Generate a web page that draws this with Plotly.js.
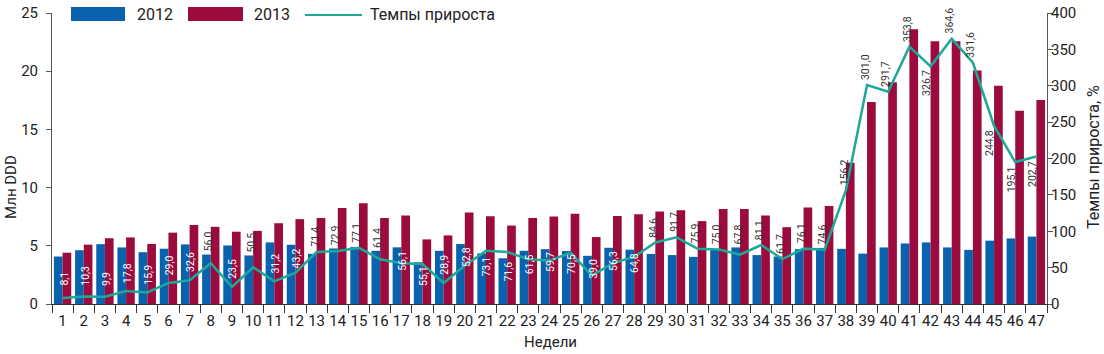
<!DOCTYPE html>
<html>
<head>
<meta charset="utf-8">
<script src="https://cdn.plot.ly/plotly-3.0.1.min.js"></script>
<style>html,body{margin:0;padding:0;background:#fff;}#chart{width:1104px;height:354px;}</style>
</head>
<body>
<div id="chart"></div>
<script>
// ---- Data ----
const weeks = Array.from({length: 47}, (_, i) => String(i + 1));
const sales2012 = [4.08, 4.62, 5.14, 4.86, 4.45, 4.75, 5.12, 4.25, 5.03, 4.17, 5.29, 5.09, 4.31, 4.77, 4.89, 4.57, 4.87, 3.58, 4.57, 5.15, 4.35, 3.93, 4.57, 4.71, 4.55, 4.14, 4.83, 4.67, 4.30, 4.20, 4.05, 4.66, 4.86, 4.20, 4.08, 4.71, 4.82, 4.74, 4.33, 4.86, 5.20, 5.29, 4.86, 4.65, 5.44, 5.63, 5.79];
const sales2013 = [4.41, 5.10, 5.65, 5.72, 5.16, 6.13, 6.79, 6.63, 6.21, 6.28, 6.94, 7.29, 7.39, 8.25, 8.66, 7.38, 7.60, 5.55, 5.89, 7.87, 7.53, 6.74, 7.38, 7.52, 7.76, 5.75, 7.55, 7.70, 7.94, 8.05, 7.12, 8.16, 8.16, 7.61, 6.60, 8.29, 8.42, 12.14, 17.36, 19.04, 23.60, 22.57, 22.58, 20.07, 18.76, 16.61, 17.53];
const growth = [8.1, 10.3, 9.9, 17.8, 15.9, 29.0, 32.6, 56.0, 23.5, 50.5, 31.2, 43.2, 71.4, 72.9, 77.1, 61.4, 56.1, 55.1, 28.9, 52.8, 73.1, 71.6, 61.5, 59.7, 70.5, 39.0, 56.3, 64.8, 84.6, 91.7, 75.9, 75.0, 67.8, 81.1, 61.7, 76.1, 74.6, 156.2, 301.0, 291.7, 353.8, 326.7, 364.6, 331.6, 244.8, 195.1, 202.7];
const seriesNames = ['2012', '2013', 'Темпы прироста'];

// ---- Label placement (style) ----
const labelsInside = [1,2,3,4,5,6,7,9,11,12,17,18,19,20,21,22,23,24,25,26,27,28];
const labelsBelow = [42,45,46,47];

// ---- Style ----
const W = 1104, H = 354;
const M = {l: 52, r: 57, t: 13, b: 50};
const plotW = W - M.l - M.r, plotH = H - M.t - M.b, plotBottom = H - M.b;
const C_BLUE = '#0a62ae', C_RED = '#9b0b3d', C_TEAL = '#1da898';
const FONT = 'Roboto, "DejaVu Sans", sans-serif';
const px2x = px => (px - M.l) / plotW;
const px2y = py => (plotBottom - py) / plotH;

const traces = [
  {type: 'bar', name: seriesNames[0], x: weeks, y: sales2012, marker: {color: C_BLUE, line: {width: 0}}, hoverinfo: 'x+y'},
  {type: 'bar', name: seriesNames[1], x: weeks, y: sales2013, marker: {color: C_RED, line: {width: 0}}, hoverinfo: 'x+y'},
  {type: 'scatter', mode: 'lines', name: seriesNames[2], x: weeks, y: growth, yaxis: 'y2', line: {color: C_TEAL, width: 2.5}}
];

const annotations = [];
growth.forEach((g, i) => {
  const wk = i + 1;
  const txt = g.toFixed(1).replace('.', ',');
  const pointPx = plotBottom - g * plotH / 400;
  const blueTop = plotBottom - sales2012[i] * plotH / 25;
  const len = txt.length * 5.3;
  const a = {xref: 'x', yref: 'y2', x: i, y: g, text: txt, showarrow: false, textangle: -90,
             font: {family: FONT, size: 10.5, color: '#333'}, xanchor: 'center'};
  if (labelsInside.includes(wk)) {
    const bottom = Math.min(288, Math.max(pointPx - 6, blueTop + 4 + len));
    a.yanchor = 'bottom'; a.yshift = pointPx - bottom; a.font.color = '#ffffff'; a.xshift = 1;
  } else if (labelsBelow.includes(wk)) {
    a.yanchor = 'top'; a.yshift = -2; a.xshift = -4;
  } else {
    const bottom = Math.min(pointPx - 3, blueTop - 1);
    a.yanchor = 'bottom'; a.yshift = pointPx - bottom; a.xshift = -2;
  }
  annotations.push(a);
});

// axis titles
annotations.push({xref: 'paper', yref: 'paper', x: px2x(11), y: px2y(187), text: 'Млн DDD', showarrow: false,
  textangle: -90, xanchor: 'center', yanchor: 'middle', font: {family: FONT, size: 15, color: '#222'}});
annotations.push({xref: 'paper', yref: 'paper', x: px2x(1093), y: px2y(157), text: 'Темпы прироста, %', showarrow: false,
  textangle: -90, xanchor: 'center', yanchor: 'middle', font: {family: FONT, size: 16, color: '#222'}});
annotations.push({xref: 'paper', yref: 'paper', x: px2x(550), y: px2y(342), text: 'Недели', showarrow: false,
  xanchor: 'center', yanchor: 'middle', font: {family: FONT, size: 15, color: '#222'}});

// custom legend
const shapes = [
  {type: 'rect', xref: 'paper', yref: 'paper', x0: px2x(71), x1: px2x(125), y0: px2y(21), y1: px2y(7), fillcolor: C_BLUE, line: {width: 0}},
  {type: 'rect', xref: 'paper', yref: 'paper', x0: px2x(188), x1: px2x(243), y0: px2y(21), y1: px2y(7), fillcolor: C_RED, line: {width: 0}},
  {type: 'line', xref: 'paper', yref: 'paper', x0: px2x(305), x1: px2x(362), y0: px2y(15), y1: px2y(15), line: {color: C_TEAL, width: 2}}
];
[[135, seriesNames[0]], [252, seriesNames[1]], [368, seriesNames[2]]].forEach(([px, t]) => {
  annotations.push({xref: 'paper', yref: 'paper', x: px2x(px), y: px2y(15), text: t, showarrow: false,
    xanchor: 'left', yanchor: 'middle', font: {family: FONT, size: 16, color: '#222'}});
});

const layout = {
  width: W, height: H,
  margin: {l: M.l, r: M.r, t: M.t, b: M.b, pad: 0},
  paper_bgcolor: '#fff', plot_bgcolor: '#fff',
  showlegend: false,
  barmode: 'group', bargap: 0.18, bargroupgap: 0,
  font: {family: FONT, color: '#222'},
  xaxis: {type: 'category', range: [-0.5, 46.5], tickson: 'boundaries', ticks: 'outside', ticklen: 8, tickcolor: '#333',
          tickangle: 0, ticklabelstandoff: 3, showline: true, linecolor: '#333', linewidth: 1, showgrid: false, zeroline: false,
          tickfont: {family: FONT, size: 15, color: '#222'}},
  yaxis: {range: [0, 25], dtick: 5, ticks: 'outside', ticklen: 5, tickcolor: '#555', showline: true, linecolor: '#555',
          ticklabelstandoff: 5, showgrid: false, zeroline: false, tickfont: {family: FONT, size: 15, color: '#222'}},
  yaxis2: {range: [0, 400], dtick: 50, overlaying: 'y', side: 'right', ticks: 'outside', ticklen: 5, tickcolor: '#555',
           ticklabelstandoff: -5, showline: true, linecolor: '#555', showgrid: false, zeroline: false,
           tickfont: {family: FONT, size: 15, color: '#222'}},
  annotations: annotations,
  shapes: shapes
};

Plotly.newPlot('chart', traces, layout, {staticPlot: true, displayModeBar: false});
</script>
</body>
</html>
